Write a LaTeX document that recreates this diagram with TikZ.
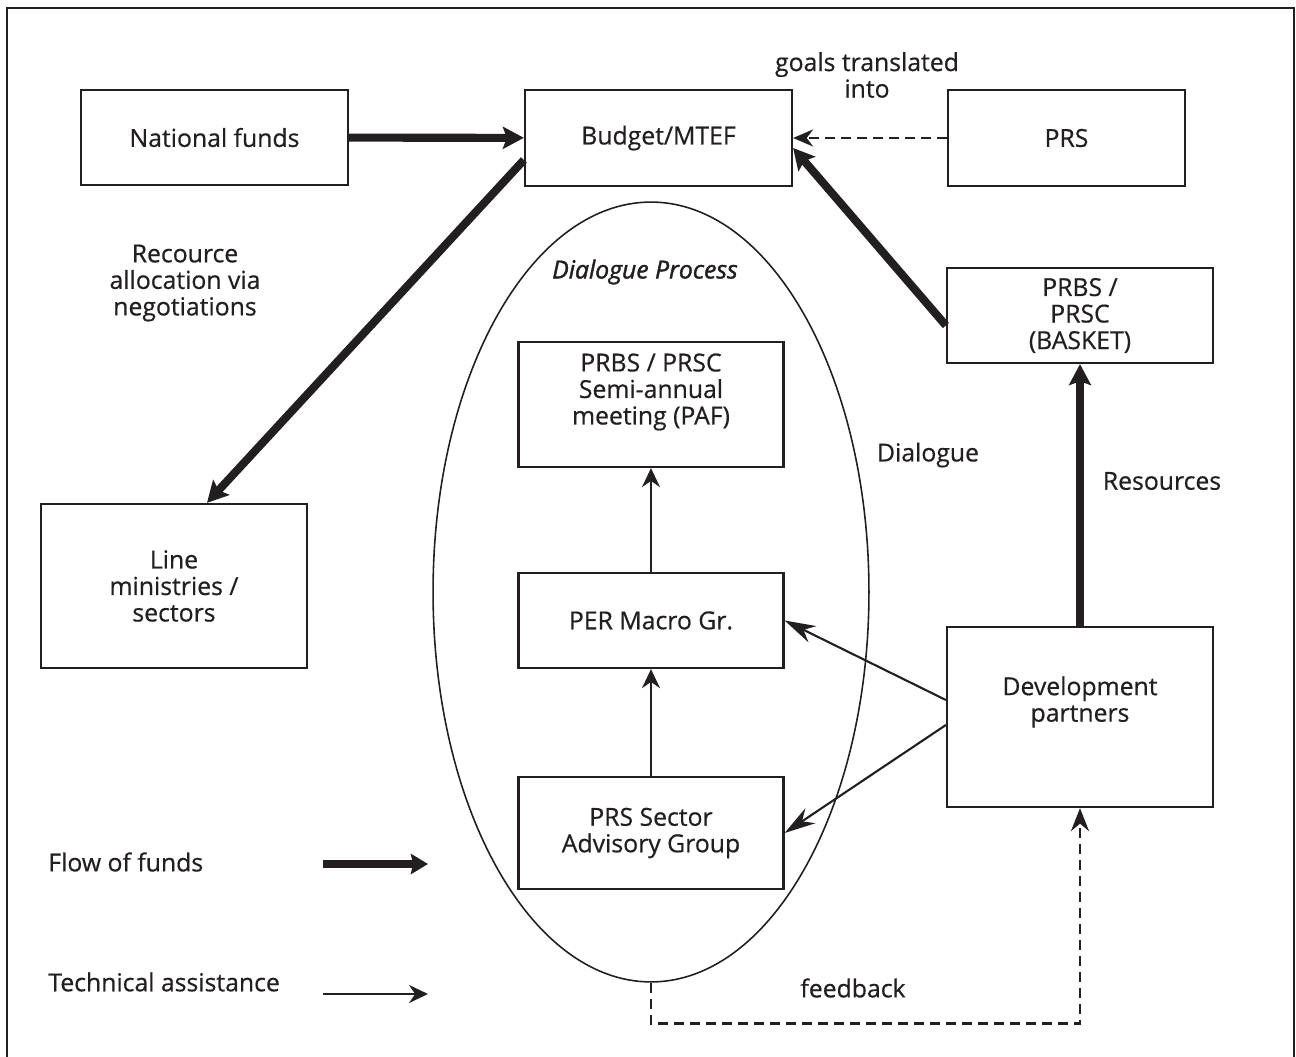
\documentclass[tikz,border=0pt]{standalone}
\usepackage{fontspec}
\setmainfont{Open Sans}
\usetikzlibrary{arrows.meta,shapes.geometric}
\definecolor{ink}{HTML}{231F20}
\tikzset{
  box/.style={draw=ink, line width=1.3pt, align=center, inner sep=0pt, text=ink},
  lbl/.style={align=center, text=ink, inner sep=0pt},
  funds/.style={draw=ink, line width=4.6pt, -{Stealth[length=0.42cm,width=0.44cm,inset=0.08cm]}},
  techas/.style={draw=ink, line width=1.2pt, -{Stealth[length=0.38cm,width=0.36cm]}},
  goals/.style={draw=ink, line width=1.4pt, dash pattern=on 0.2cm off 0.12cm, -{Stealth[length=0.4cm,width=0.34cm]}}
}
\begin{document}
\begin{tikzpicture}[x=0.02cm, y=-0.02cm, font=\fontsize{14.1}{15.1}\selectfont\addfontfeature{FakeBold=0.6}]
\useasboundingbox (0,0) rectangle (1296,1057);
\draw[ink, line width=1.4pt] (7,1057) -- (7,8) -- (1294,8) -- (1294,1057);
% boxes
\node[box, minimum width=5.34cm, minimum height=1.9cm] (natfunds) at (214.5,137.5) {National funds};
\node[box, minimum width=5.34cm, minimum height=1.92cm] (budget) at (658.5,138) {Budget/MTEF};
\node[box, minimum width=4.74cm, minimum height=1.92cm] (prs) at (1066.5,138) {PRS};
\node[box, minimum width=5.32cm, minimum height=1.9cm] (basket) at (1080,315.5) {PRBS /\\PRSC\\(BASKET)};
\node[box, minimum width=5.32cm, minimum height=3.6cm] (dev) at (1080,717) {Development\\partners\\[0.19cm]};
\node[box, minimum width=5.32cm, minimum height=3.28cm] (lines) at (174,586) {Line\\ministries /\\sectors};
% dialogue process
\node[ellipse, draw=ink, line width=0.9pt, minimum width=8.72cm, minimum height=15.6cm] (dialogue) at (651,592) {};
\node[lbl, font=\fontsize{14.1}{15.1}\selectfont\itshape\addfontfeature{FakeBold=1.6}] (dialtitle) at (645,272) {Dialogue Process};
\node[box, minimum width=5.3cm, minimum height=2.5cm] (paf) at (651,404.5) {PRBS / PRSC\\Semi-annual\\meeting (PAF)\\[0.09cm]};
\node[box, minimum width=5.3cm, minimum height=1.9cm] (per) at (651,620.5) {PER Macro Gr.};
\node[box, minimum width=5.3cm, minimum height=2.24cm] (sag) at (651,833) {PRS Sector\\Advisory Group};
% labels
\node[lbl] (goalstxt) at (867,75) {goals translated\\into};
\node[lbl] (recource) at (185,283) {Recource\\allocation via\\negotiations};
\node[lbl] (dialtxt) at (928,455) {Dialogue};
\node[lbl] (restxt) at (1162,481) {Resources};
\node[lbl] (feedtxt) at (853,988) {feedback};
% flow of funds
\draw[funds] (natfunds) -- (budget);
\draw[funds] ([yshift=-0.44cm]budget.west) -- ([xshift=0.66cm]lines.north);
\draw[funds] ([yshift=-0.2cm]basket.west) -- ([yshift=-0.2cm]budget.east);
\draw[funds] (dev) -- (basket);
% technical assistance
\draw[techas, -{Stealth[length=0.62cm,width=0.36cm]}] ([yshift=0.34cm]dev.west) -- (per.east);
\draw[techas, -{Stealth[length=0.62cm,width=0.36cm]}] ([yshift=-0.16cm]dev.west) -- (sag.east);
\draw[techas] (per) -- (paf);
\draw[techas] (sag) -- (per);
% goals and feedback
\draw[goals] (prs) -- (budget);
\draw[goals, line width=1.5pt, -{Stealth[length=0.46cm,width=0.36cm]}] (dialogue.south) -- ++(0,41) -| (dev.south);
% legend
\node[lbl, anchor=west] (fflbl) at (48,862) {Flow of funds};
\node[lbl, anchor=west] (talbl) at (48,982) {Technical assistance};
\coordinate (ffa) at (323,864);
\coordinate (ffb) at (428,864);
\coordinate (taa) at (323,994);
\coordinate (tab) at (428,994);
\draw[funds, line width=4pt, -{Stealth[length=0.34cm,width=0.4cm,inset=0.04cm]}] (ffa) -- (ffb);
\draw[techas] (taa) -- (tab);
\end{tikzpicture}
\end{document}
